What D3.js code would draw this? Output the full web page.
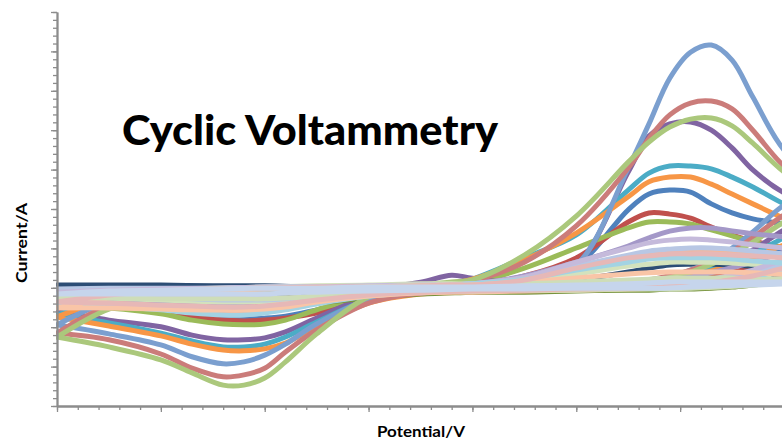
<!DOCTYPE html>
<html><head><meta charset="utf-8">
<script src="https://cdn.jsdelivr.net/npm/d3@7/dist/d3.min.js"></script>
<style>body{margin:0;background:#fff;} svg{display:block;}</style>
</head><body>
<svg id="chart" width="782" height="439"></svg>
<script>
// ---- data (potential in V, current in µA) ----
const potentialForward = [-0.20,-0.15,-0.10,-0.05,0.00,0.05,0.10,0.15,0.18,0.20,0.25,0.30,0.35,0.37,0.39,0.41,0.43,0.45,0.47,0.50,0.54];
const potentialReverse = [0.50,0.47,0.44,0.41,0.38,0.35,0.30,0.25,0.20,0.15,0.10,0.05,0.02,0.00,-0.02,-0.04,-0.07,-0.10,-0.15,-0.20];

const seriesNames = ["Scan 1","Scan 2","Scan 3","Scan 4","Scan 5","Scan 6","Scan 7","Scan 8","Scan 9","Scan 10","Scan 11","Scan 12",
  "Scan 13","Scan 14","Scan 15","Scan 16","Scan 17","Scan 18","Scan 19","Scan 20","Scan 21"];
const seriesColors = ["#4F81BD","#C0504D","#9BBB59","#8064A2","#4BACC6","#F79646","#2C4D75","#77933C","#7B9FCF","#CB7C7A","#ABC87C","#A498C8",
  "#F4B89A","#D3E2BD","#B8C7E4","#C5BADB","#A3D3E3","#F9C5A7","#CEDDB8","#E6B8B7","#C6D5EC"];

const forwardCurrent = [
  [-3.1,-1.8,-1.3,-0.8,-0.6,-0.3,-0.1,0.2,0.5,0.7,2.7,5.8,19.8,23.8,24.8,24.3,21.3,19.0,17.5,16.2,14.2],
  [-3.1,-2.1,-1.6,-1.1,-0.8,-0.6,-0.3,0.2,0.5,0.7,3.0,7.6,16.7,19.0,18.7,17.7,15.4,13.4,11.9,10.1,8.3],
  [-4.4,-2.3,-1.6,-1.1,-0.8,-0.6,-0.3,0.2,0.7,1.2,5.0,10.1,15.2,16.7,16.7,16.2,14.7,13.2,11.6,10.1,8.3],
  [-6.1,-2.6,-1.3,-0.8,-0.6,-0.3,-0.1,1.4,3.2,2.4,1.5,5.8,29.4,38.5,41.6,42.1,40.0,35.5,29.9,24.1,19.8],
  [-6.9,-2.8,-1.6,-1.1,-0.6,-0.3,-0.1,0.2,1.0,2.2,7.6,13.4,24.8,29.1,30.9,30.9,30.2,28.1,25.6,21.3,17.2],
  [-7.4,-3.1,-1.8,-1.1,-0.8,-0.3,-0.1,0.5,1.2,2.2,7.1,13.9,23.1,26.9,28.1,28.1,26.3,23.8,21.3,17.7,14.2],
  [0.7,0.7,0.7,0.5,0.5,0.2,0.2,0.2,0.2,0.2,0.7,2.0,4.0,5.0,5.8,6.0,6.0,5.8,5.5,5.0,4.5],
  [-4.4,-3.1,-2.3,-1.8,-1.6,-1.3,-1.1,-1.1,-1.1,-1.1,-1.1,-0.8,-0.6,-0.6,-0.3,-0.3,-0.1,0.2,0.7,1.5,2.5],
  [-9.4,-3.6,-2.1,-1.6,-1.1,-0.8,-0.6,-0.3,-0.1,0.2,1.5,5.8,30.4,41.6,53.2,59.8,61.6,57.8,48.4,35.0,26.1],
  [-11.5,-4.6,-2.6,-1.8,-1.3,-0.8,-0.6,-0.1,0.7,1.7,6.5,15.7,30.4,37.9,43.9,46.9,47.4,45.4,40.0,30.9,23.6],
  [-12.5,-5.4,-2.6,-1.6,-1.1,-0.6,-0.3,0.7,1.5,2.0,8.3,18.2,31.9,37.0,40.8,42.8,43.1,41.1,36.7,29.4,22.3],
  [-2.6,-1.3,-0.8,-0.6,-0.3,-0.1,0.2,0.5,0.7,1.0,3.0,6.5,10.6,12.7,14.4,15.2,15.2,14.4,13.7,12.9,11.6],
  [-3.1,-1.6,-0.8,-0.3,-0.1,0.2,0.2,0.5,0.5,0.7,2.0,4.5,7.6,8.6,9.3,9.6,9.6,9.3,8.8,8.1,7.1],
  [-2.1,-1.1,-0.6,-0.1,0.2,0.5,0.7,1.0,1.0,1.0,2.0,3.5,5.5,6.0,6.5,6.5,6.5,6.3,6.0,5.5,5.0],
  [-0.3,-0.1,-0.1,-0.1,0.2,0.2,0.2,0.5,0.7,1.0,2.5,5.5,8.3,9.3,9.8,10.1,10.1,9.8,9.3,8.6,7.6],
  [-1.1,-0.6,-0.3,-0.1,0.2,0.2,0.5,0.7,0.7,1.0,2.7,6.5,10.1,11.4,12.1,12.4,12.1,11.6,10.9,10.1,9.1],
  [-4.1,-2.1,-1.1,-0.6,-0.3,-0.1,0.2,0.5,0.7,1.0,2.2,4.5,6.5,7.3,7.6,7.6,7.6,7.3,6.8,6.3,5.5],
  [-5.1,-2.6,-1.3,-0.6,-0.3,-0.1,0.2,0.5,0.7,0.7,1.5,2.5,3.5,3.8,4.0,4.0,4.0,4.0,3.8,3.5,3.0],
  [-2.6,-1.3,-0.8,-0.3,-0.1,-0.1,0.2,0.5,0.5,0.5,1.0,1.5,2.0,2.2,2.5,2.5,2.5,2.5,2.2,2.2,2.0],
  [-3.6,-1.8,-0.8,-0.3,-0.1,0.2,0.2,0.5,0.7,0.7,2.0,5.0,7.6,8.1,8.6,8.6,8.6,8.3,8.1,7.6,6.8],
  [-1.6,-0.8,-0.6,-0.3,-0.1,-0.1,0.2,0.2,0.2,0.2,0.5,0.7,1.0,1.2,1.5,1.5,1.5,1.5,1.5,1.5,1.5]
];
const reverseCurrent = [
  [10.1,7.1,4.5,2.5,1.2,0.5,-0.1,-0.6,-0.8,-1.3,-2.6,-5.6,-7.2,-7.7,-7.9,-7.7,-6.6,-5.4,-4.1,-3.1],
  [6.5,5.0,3.5,2.0,1.0,0.5,-0.1,-0.6,-0.8,-1.3,-3.1,-6.4,-7.7,-8.2,-8.4,-8.2,-7.2,-5.6,-4.1,-3.1],
  [5.0,3.3,2.0,1.2,0.7,0.2,-0.3,-0.6,-0.8,-1.3,-2.1,-5.6,-8.2,-9.2,-9.4,-9.2,-8.2,-6.6,-5.1,-4.4],
  [14.7,9.6,5.8,3.3,1.7,1.0,0.2,-0.3,-1.1,-1.3,-2.3,-7.7,-11.2,-12.7,-13.2,-13.2,-12.0,-9.9,-8.2,-6.1],
  [12.7,8.6,5.5,3.3,1.7,1.0,0.2,-0.3,-0.8,-1.3,-3.1,-8.7,-12.5,-14.3,-15.0,-15.0,-13.5,-11.5,-8.9,-6.9],
  [10.9,7.6,5.0,3.0,1.5,0.7,-0.1,-0.6,-1.1,-1.6,-3.9,-9.9,-14.0,-15.5,-16.0,-15.8,-14.3,-12.2,-9.7,-7.4],
  [3.0,2.0,1.2,0.7,0.2,-0.1,-0.3,-0.6,-0.6,-0.6,-0.8,-1.1,-1.1,-1.1,-0.8,-0.6,-0.3,-0.1,0.2,0.7],
  [2.0,1.2,0.7,0.5,0.2,-0.1,-0.3,-0.6,-1.1,-1.6,-2.6,-3.9,-4.6,-4.9,-5.1,-5.1,-5.1,-4.9,-4.6,-4.4],
  [21.0,14.2,8.3,4.5,2.2,1.0,0.2,-0.3,-0.8,-1.3,-3.1,-9.2,-14.3,-17.1,-18.8,-19.3,-17.5,-14.5,-11.7,-9.4],
  [18.5,12.7,7.6,4.5,2.5,1.2,0.5,-0.1,-0.8,-1.3,-3.9,-10.7,-16.3,-20.4,-22.1,-22.6,-20.4,-16.8,-13.2,-11.5],
  [16.7,11.6,7.1,4.0,2.0,1.0,0.2,-0.3,-0.1,0.5,-2.3,-11.7,-18.8,-22.9,-24.7,-24.7,-21.6,-18.3,-15.0,-12.5],
  [9.1,6.5,4.5,2.7,1.7,1.0,0.5,-0.1,-0.6,-1.1,-2.1,-3.6,-4.4,-4.6,-4.6,-4.4,-3.9,-3.4,-2.8,-2.6],
  [5.5,3.5,2.0,1.0,0.5,0.2,-0.1,-0.3,-0.6,-0.8,-1.6,-3.4,-4.6,-5.4,-5.9,-5.9,-5.4,-4.6,-3.9,-3.1],
  [4.0,2.5,1.5,0.7,0.2,-0.1,-0.3,-0.6,-0.8,-1.1,-1.6,-2.6,-3.1,-3.4,-3.6,-3.6,-3.4,-3.1,-2.6,-2.1],
  [6.0,4.0,2.5,1.2,0.5,0.2,-0.1,-0.3,-0.6,-0.8,-1.3,-2.3,-2.8,-3.1,-3.1,-3.1,-2.8,-2.3,-1.6,-0.3],
  [7.1,4.5,2.7,1.5,0.7,0.2,-0.1,-0.3,-0.6,-0.8,-1.3,-2.1,-2.6,-2.6,-2.6,-2.3,-2.1,-1.8,-1.6,-1.1],
  [4.5,2.7,1.5,0.7,0.2,-0.1,-0.3,-0.6,-0.8,-1.1,-2.1,-4.1,-5.6,-6.4,-6.9,-6.9,-6.4,-5.6,-4.6,-4.1],
  [2.5,1.5,0.7,0.2,-0.1,-0.3,-0.6,-0.8,-1.1,-1.3,-2.1,-3.6,-4.9,-5.4,-5.6,-5.6,-5.6,-5.4,-5.1,-5.1],
  [1.2,0.7,0.2,-0.1,-0.3,-0.3,-0.6,-0.6,-0.8,-0.8,-1.3,-2.1,-2.6,-2.8,-2.8,-2.8,-2.8,-2.8,-2.6,-2.6],
  [5.0,3.0,1.7,0.7,0.2,-0.1,-0.3,-0.6,-0.8,-1.1,-1.8,-3.1,-4.1,-4.6,-4.9,-4.9,-4.6,-4.4,-3.9,-3.6],
  [1.0,0.7,0.5,0.2,-0.1,-0.1,-0.1,-0.3,-0.3,-0.6,-0.8,-1.1,-1.3,-1.6,-1.6,-1.6,-1.6,-1.6,-1.6,-1.6]
];

const xDomain = [-0.2, 0.5];
const xMajorStep = 0.1, xMinorStep = 0.02;
const yDomain = [-30, 70];
const yMajorStep = 10, yMinorStep = 2;
const chartTitle = "Cyclic Voltammetry";
const xTitle = "Potential/V";
const yTitle = "Current/A";

// ---- drawing ----
const svg = d3.select("#chart");
const plot = {left: 57, right: 784, top: 12, bottom: 406};
const x = d3.scaleLinear().domain(xDomain).range([plot.left, plot.right]);
const y = d3.scaleLinear().domain(yDomain).range([plot.bottom, plot.top]);

const tickVals = (dom, step) => {
  const n = Math.round((dom[1] - dom[0]) / step);
  return d3.range(n + 1).map(i => +(dom[0] + i * step).toFixed(4));
};

svg.append("defs").append("clipPath").attr("id", "clip")
  .append("rect").attr("x", plot.left - 1).attr("y", plot.top - 6)
  .attr("width", 800).attr("height", plot.bottom - plot.top + 6);

const line = d3.line()
  .x(d => x(d[0])).y(d => y(d[1]))
  .curve(d3.curveCatmullRom.alpha(0.5));

const gLines = svg.append("g").attr("clip-path", "url(#clip)");
seriesNames.forEach((name, i) => {
  const pts = potentialForward.map((v, j) => [v, forwardCurrent[i][j]])
    .concat(potentialReverse.map((v, j) => [v, reverseCurrent[i][j]]));
  gLines.append("path").datum(pts)
    .attr("d", line)
    .attr("fill", "none")
    .attr("stroke", seriesColors[i])
    .attr("stroke-width", 5)
    .attr("stroke-linejoin", "round")
    .attr("stroke-linecap", "round");
});

const axisColor = "#8C8C8C";
function styleAxis(g) {
  g.selectAll("path.domain").attr("stroke", axisColor).attr("stroke-width", 1.8);
  g.selectAll(".tick line").attr("stroke", axisColor).attr("stroke-width", 1.3);
  g.selectAll("text").remove();
}

svg.append("g").attr("transform", `translate(${plot.left},0)`)
  .call(d3.axisLeft(y).tickValues(tickVals(yDomain, yMinorStep)).tickSize(4).tickSizeOuter(0).tickFormat(""))
  .call(styleAxis);
svg.append("g").attr("transform", `translate(${plot.left},0)`)
  .call(d3.axisLeft(y).tickValues(tickVals(yDomain, yMajorStep)).tickSize(6).tickSizeOuter(0).tickFormat(""))
  .call(styleAxis);

svg.append("g").attr("transform", `translate(0,${plot.bottom})`)
  .call(d3.axisBottom(x).tickValues(tickVals(xDomain, xMinorStep)).tickSize(4).tickSizeOuter(0).tickFormat(""))
  .call(styleAxis);
svg.append("g").attr("transform", `translate(0,${plot.bottom})`)
  .call(d3.axisBottom(x).tickValues(tickVals(xDomain, xMajorStep)).tickSize(6).tickSizeOuter(0).tickFormat(""))
  .call(styleAxis);

svg.append("text").text(chartTitle)
  .attr("x", 122).attr("y", 145)
  .attr("font-family", "Lato, 'Open Sans', sans-serif").attr("font-weight", "900")
  .attr("font-size", 41).attr("fill", "#000")
  .attr("textLength", 376).attr("lengthAdjust", "spacingAndGlyphs");

svg.append("text").text(xTitle)
  .attr("x", 421).attr("y", 437).attr("text-anchor", "middle")
  .attr("font-family", "Lato, 'Open Sans', sans-serif").attr("font-weight", "bold")
  .attr("font-size", 16).attr("fill", "#000")
  .attr("textLength", 88).attr("lengthAdjust", "spacingAndGlyphs");

svg.append("text").text(yTitle)
  .attr("transform", "translate(27,243) rotate(-90)").attr("text-anchor", "middle")
  .attr("font-family", "Lato, 'Open Sans', sans-serif").attr("font-weight", "bold")
  .attr("font-size", 15).attr("fill", "#000")
  .attr("textLength", 80).attr("lengthAdjust", "spacingAndGlyphs");
</script>
</body></html>
